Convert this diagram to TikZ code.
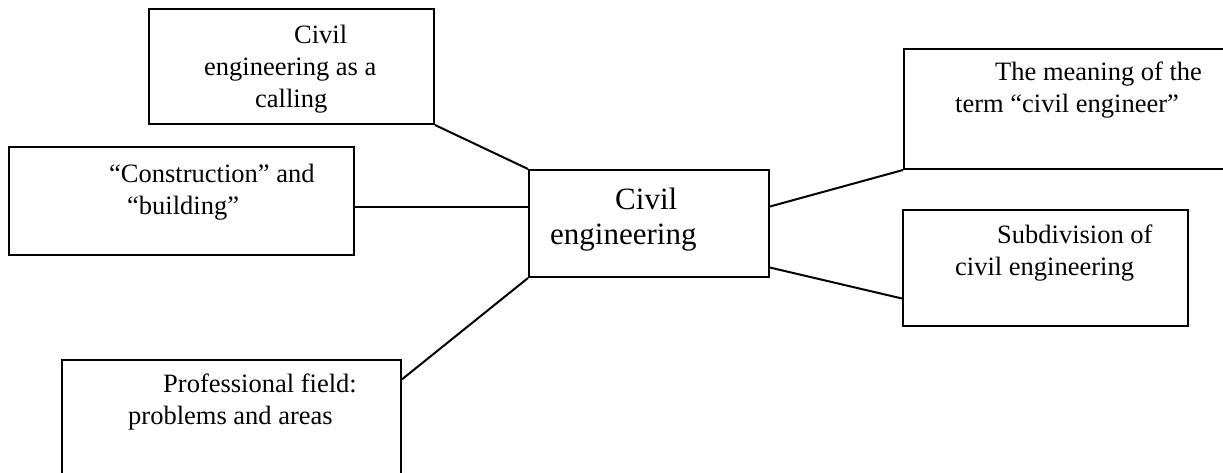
\documentclass[tikz,border=0pt]{standalone}
\usepackage{fontspec}
\setmainfont{Liberation Serif}
\usepackage{tikz}

\tikzset{
  box/.style={draw, line width=2pt, anchor=north west, inner sep=0pt},
  link/.style={line width=2pt},
  txt/.style={anchor=base west, align=left, inner sep=0pt, font=\fontsize{26.5}{32}\selectfont},
  bigtxt/.style={txt, font=\fontsize{31}{35}\selectfont}
}

\begin{document}
\begin{tikzpicture}[x=1pt,y=-1pt]
\useasboundingbox (0,0) rectangle (1223,472);
\clip (0,0) rectangle (1223,472);
\node[box, minimum width=345, minimum height=108] (constr) at (8,146) {};
\node[box, minimum width=285, minimum height=115] (calling) at (148,8) {};
\node[box, minimum width=339, minimum height=130] (prof) at (61,359) {};
\node[box, minimum width=240, minimum height=107] (civil) at (528,169) {};
\node[box, minimum width=400, minimum height=120] (meaning) at (903,48) {};
\node[box, minimum width=285, minimum height=116] (sub) at (902,209) {};
\node[txt] (callingtxt) at (204,107) {\hspace*{90pt}Civil\\engineering as a\\\hspace*{51pt}calling};
\node[txt] (constrtxt) at (109,214) {“Construction” and\\\hspace*{18pt}“building”};
\node[txt] (proftxt) at (128,424) {\hspace*{35pt}Professional field:\\problems and areas};
\node[bigtxt] (civiltxt) at (550,244) {\hspace*{65pt}Civil\\engineering};
\node[txt] (meaningtxt) at (955,112) {\hspace*{40pt}The meaning of the\\term “civil engineer”};
\node[txt] (subtxt) at (955,275) {\hspace*{42pt}Subdivision of\\civil engineering};
\draw[link] (calling.south east) -- (civil.north west);
\draw[link] (constr.-2.7) -- (civil.west |- constr.-2.7);
\draw[link] (prof.15.5) -- (civil.south west);
\draw[link] (civil.8) -- (meaning.south west);
\draw[link] (civil.-20) -- (sub.-168.1);
\end{tikzpicture}
\end{document}
